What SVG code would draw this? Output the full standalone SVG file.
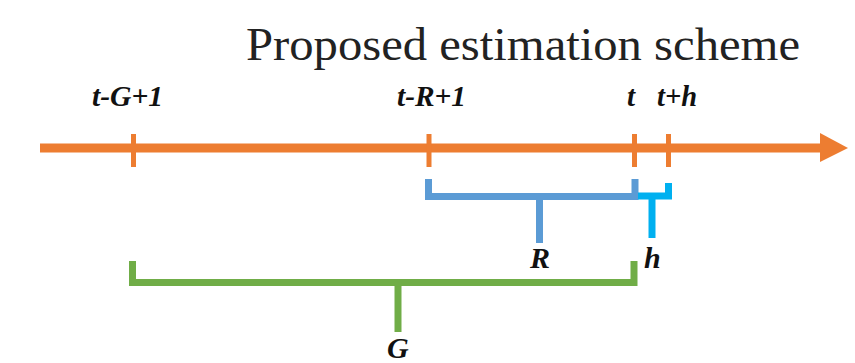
<svg xmlns="http://www.w3.org/2000/svg" width="855" height="363" viewBox="0 0 855 363">
<style>
.lbl{font-family:"Liberation Serif","Times New Roman",serif;font-style:italic;font-weight:bold;font-size:29px;fill:#111;}
.big{font-size:30px;}
.title{font-family:"Liberation Serif","Times New Roman",serif;font-size:47px;fill:#222;}
.ax{stroke:#ED7D31;fill:none;}
.br{fill:none;stroke-linecap:butt;stroke-linejoin:miter;}
</style>
<rect width="855" height="363" fill="#fff"/>
<text class="title" x="246" y="60" textLength="554" lengthAdjust="spacingAndGlyphs">Proposed estimation scheme</text>
<g id="connectors">
  <g id="axis">
    <line class="ax" x1="40" y1="148" x2="822" y2="148" stroke-width="9"/>
    <polygon points="820,133 848,148 820,162" fill="#ED7D31"/>
    <line class="ax" x1="133.5" y1="134" x2="133.5" y2="167" stroke-width="5"/>
    <line class="ax" x1="429" y1="134" x2="429" y2="167" stroke-width="5"/>
    <line class="ax" x1="634.5" y1="134" x2="634.5" y2="167" stroke-width="5"/>
    <line class="ax" x1="668.5" y1="134" x2="668.5" y2="167" stroke-width="5"/>
  </g>
  <g id="bracket-R">
    <path class="br" d="M428.5,179 V196.5 H635 V179" stroke="#5B9BD5" stroke-width="7"/>
    <line x1="539.5" y1="196" x2="539.5" y2="243" stroke="#5B9BD5" stroke-width="7"/>
  </g>
  <g id="bracket-h">
    <path class="br" d="M638,196 H668.5 V183" stroke="#00B0F0" stroke-width="7"/>
    <line x1="652" y1="196" x2="652" y2="238" stroke="#00B0F0" stroke-width="7"/>
  </g>
  <g id="bracket-G">
    <path class="br" d="M132.5,261 V282.5 H634 V261" stroke="#70AD47" stroke-width="7"/>
    <line x1="398" y1="282" x2="398" y2="332" stroke="#70AD47" stroke-width="7"/>
  </g>
</g>
<g id="label-tG1"><text class="lbl" x="92" y="106" textLength="71" lengthAdjust="spacingAndGlyphs">t-G+1</text></g>
<g id="label-tR1"><text class="lbl" x="397" y="106" textLength="69" lengthAdjust="spacingAndGlyphs">t-R+1</text></g>
<g id="label-t"><text class="lbl" x="627" y="106">t</text></g>
<g id="label-th"><text class="lbl" x="657" y="106" textLength="40" lengthAdjust="spacingAndGlyphs">t+h</text></g>
<g id="label-R"><text class="lbl big" x="530" y="268">R</text></g>
<g id="label-h"><text class="lbl big" x="644" y="268">h</text></g>
<g id="label-G"><text class="lbl big" x="387" y="358">G</text></g>
</svg>
